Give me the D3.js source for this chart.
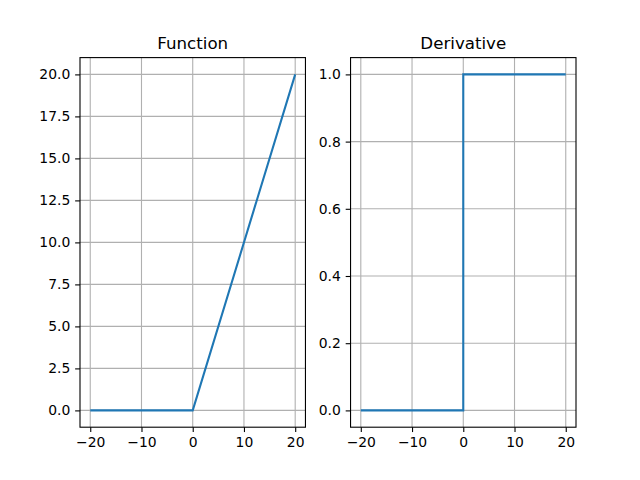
<!DOCTYPE html>
<html><head><meta charset="utf-8">
<script src="https://cdn.jsdelivr.net/npm/d3@7"></script>
<style>body{margin:0;background:#fff}svg{display:block}text{font-family:"DejaVu Sans",sans-serif}</style>
</head><body>
<svg id="c" width="640" height="480"></svg>
<script>
const xTicks = [-20, -10, 0, 10, 20];
const funcX = [-20, 0, 20];
const funcY = [0, 0, 20];
const funcYTicks = [0, 2.5, 5, 7.5, 10, 12.5, 15, 17.5, 20];
const derivX = [-20, 0, 0, 20];
const derivY = [0, 0, 1, 1];
const derivYTicks = [0, 0.2, 0.4, 0.6, 0.8, 1.0];
const titles = ["Function", "Derivative"];

const svg = d3.select("#c");
const axTop = 57.6, axBottom = 427.2, axW = 225.45;
const lefts = [80, 350.55];
const panels = [
  {x: funcX, y: funcY, yTicks: funcYTicks, ydom: [-1, 21], fmt: d3.format(".1f")},
  {x: derivX, y: derivY, yTicks: derivYTicks, ydom: [-0.05, 1.05], fmt: d3.format(".1f")}
];
const fmtX = d => (d < 0 ? "\u2212" + Math.abs(d) : String(d));

panels.forEach((p, i) => {
  const L = lefts[i];
  const x = d3.scaleLinear().domain([-22, 22]).range([L, L + axW]);
  const y = d3.scaleLinear().domain(p.ydom).range([axBottom, axTop]);
  const g = svg.append("g");
  g.selectAll(".gx").data(xTicks).enter().append("line")
    .attr("x1", d => x(d)).attr("x2", d => x(d)).attr("y1", axTop).attr("y2", axBottom)
    .attr("stroke", "#b0b0b0").attr("stroke-width", 1.1);
  g.selectAll(".gy").data(p.yTicks).enter().append("line")
    .attr("y1", d => y(d)).attr("y2", d => y(d)).attr("x1", L).attr("x2", L + axW)
    .attr("stroke", "#b0b0b0").attr("stroke-width", 1.1);
  const pts = p.x.map((v, k) => [v, p.y[k]]);
  g.append("path").datum(pts)
    .attr("d", d3.line().x(d => x(d[0])).y(d => y(d[1])))
    .attr("fill", "none").attr("stroke", "#1f77b4").attr("stroke-width", 2.08)
    .attr("stroke-linecap", "butt");
  const ax = g.append("g").attr("transform", `translate(0,${axBottom})`)
    .call(d3.axisBottom(x).tickValues(xTicks).tickFormat(fmtX).tickSizeOuter(0).tickSizeInner(4.86).tickPadding(4.86));
  const ay = g.append("g").attr("transform", `translate(${L},0)`)
    .call(d3.axisLeft(y).tickValues(p.yTicks).tickFormat(p.fmt).tickSizeOuter(0).tickSizeInner(4.86).tickPadding(4.86));
  [ax, ay].forEach(a => {
    a.select(".domain").remove();
    a.selectAll(".tick line").attr("stroke", "#000").attr("stroke-width", 1.1);
    a.selectAll(".tick text").attr("fill", "#000").style("font-size", "13.9px").style("font-family", "DejaVu Sans");
  });
  g.append("rect").attr("x", L).attr("y", axTop).attr("width", axW).attr("height", axBottom - axTop)
    .attr("fill", "none").attr("stroke", "#000").attr("stroke-width", 1.1);
  g.append("text").attr("x", L + axW / 2).attr("y", axTop - 8.3).attr("text-anchor", "middle")
    .style("font-size", "16.67px").text(titles[i]);
});
</script>
</body></html>
